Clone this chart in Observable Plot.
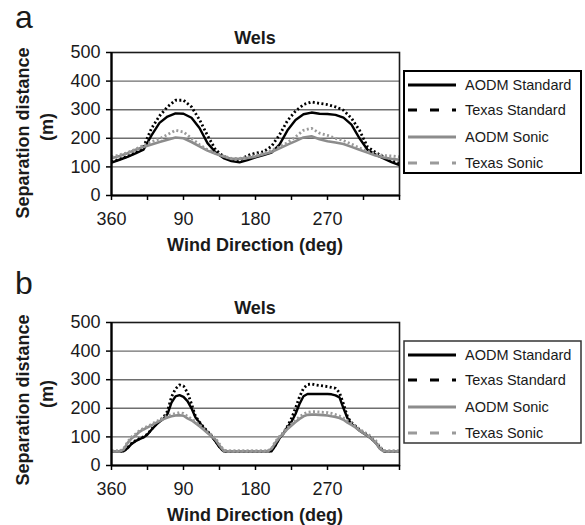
<!DOCTYPE html>
<html><head><meta charset="utf-8">
<script src="https://cdn.jsdelivr.net/npm/d3@7"></script>
<script src="https://cdn.jsdelivr.net/npm/@observablehq/plot@0.6"></script>
<style>
body{margin:0;background:#fff;font-family:"Liberation Sans",Arial,sans-serif;}
#wrap{position:relative;width:585px;height:525px;overflow:hidden;background:#fff;}
.panel{position:absolute;left:0;width:585px;height:270px;}
.panel svg{position:absolute;left:0;top:0;}
</style>
</head><body>
<div id="wrap"></div>
<script>
// ---- data ----
const seriesNames = ["AODM Standard", "Texas Standard", "AODM Sonic", "Texas Sonic"];
const xTickValues = [0, 45, 90, 135, 180, 225, 270, 315, 360];
const xTickLabels = ["360", "", "90", "", "180", "", "270", "", ""];
const yTickValues = [0, 100, 200, 300, 400, 500];

// Panel a: wind direction (deg) and separation distance (m)
const degA = [0,10,20,30,40,50,60,70,80,90,100,110,120,130,140,150,160,170,180,190,200,210,220,230,240,250,260,270,280,290,300,310,320,330,340,350,360];
const aodmStdA  = [115,125,135,147,160,210,254,276,287,286,272,236,183,151,131,120,116,124,133,141,150,178,228,264,284,290,286,285,282,272,248,200,160,143,130,117,106];
const texasStdA = [118,127,137,150,170,235,278,310,333,333,310,265,210,160,137,125,122,140,148,153,172,212,262,295,318,327,322,318,310,298,270,228,170,151,135,122,112];
const aodmSonA  = [130,138,148,160,170,178,187,195,203,200,187,172,157,146,136,128,128,131,136,144,152,165,178,190,203,207,197,190,185,180,170,160,150,140,133,128,125];
const texasSonA = [135,142,150,162,175,188,198,213,228,222,200,178,160,148,138,130,130,134,140,148,158,170,185,205,228,235,218,210,200,192,180,166,155,145,140,138,135];

// Panel b
const degB = [0,5,10,15,20,25,30,35,40,45,50,55,60,65,70,75,80,85,90,95,100,105,110,115,120,125,130,135,140,145,150,155,160,165,170,175,180,185,190,195,200,205,210,215,220,225,230,235,240,245,250,255,260,265,270,275,280,285,290,295,300,305,310,315,320,325,330,335,340,345,350,355,360];
const aodmStdB  = [50,50,50,50,60,75,85,92,98,108, 125,140,153,163,180,220,242,246,240,225, 200,168,150,132,118,102,84,64,50,50, 50,50,50,50,50,50,50,50,50,50, 50,70,95,112,135,153,180,215,242,250, 250,250,250,250,250,249,245,238,200,165, 145,135,122,113,104,93,80,62,50,50, 50,50,50];
const texasStdB = [50,50,50,50,62,77,87,94,100,110, 127,142,155,168,190,240,268,282,278,255, 215,172,152,134,120,104,86,66,50,50, 50,50,50,50,50,50,50,50,50,50, 52,72,97,114,137,165,200,240,270,283, 285,282,280,278,276,273,270,255,215,170, 150,138,125,115,106,95,82,64,50,50, 50,50,50];
const aodmSonB  = [50,50,50,55,78,95,105,118,126,133, 140,148,155,162,168,172,175,176,174,165, 158,148,137,126,114,102,90,70,52,50, 50,50,50,50,50,50,50,50,50,50, 58,80,98,112,128,140,152,163,172,177, 178,178,177,176,175,172,170,166,160,150, 142,133,122,113,104,93,80,60,50,50, 50,50,50];
const texasSonB = [50,50,50,58,82,100,110,122,130,137, 144,152,160,168,174,178,182,185,182,172, 163,153,142,130,118,107,95,75,55,50, 50,50,50,50,50,50,50,50,50,50, 60,84,102,116,132,145,158,170,180,186, 188,188,187,186,185,182,178,173,166,157, 148,138,127,118,110,100,88,68,52,50, 50,50,50];

// ---- styles ----
const styles = {
  "AODM Standard":  {stroke: "#000", strokeWidth: 2.4, dash: null,  legendDash: null},
  "Texas Standard": {stroke: "#000", strokeWidth: 2.8, dash: "2,2.4", legendDash: "9,13"},
  "AODM Sonic":     {stroke: "#8c8c8c", strokeWidth: 2.6, dash: null, legendDash: null},
  "Texas Sonic":    {stroke: "#9a9a9a", strokeWidth: 2.8, dash: "2,2.4", legendDash: "9,13"}
};

function makePanel(top, letter, letterY, ylabelY, deg, valuesList, legendStroke) {
  const div = document.createElement("div");
  div.className = "panel";
  div.style.top = top + "px";
  document.getElementById("wrap").append(div);

  const rows = [];
  seriesNames.forEach((s, i) => deg.forEach((d, j) => rows.push({series: s, deg: d, value: valuesList[i][j]})));

  const lineMarks = seriesNames.map(s => Plot.line(rows.filter(r => r.series === s), {
    x: "deg", y: "value", stroke: styles[s].stroke, strokeWidth: styles[s].strokeWidth,
    strokeDasharray: styles[s].dash, strokeLinejoin: "round", strokeLinecap: "butt"
  }));

  const plot = Plot.plot({
    width: 400, height: 260,
    marginLeft: 111, marginRight: 1, marginTop: 52, marginBottom: 65,
    x: {domain: [0, 360]},
    y: {domain: [0, 500]},
    style: {fontFamily: "'Liberation Sans', Arial, sans-serif", fontSize: "18px", color: "#1a1a1a", background: "transparent", overflow: "visible"},
    marks: [
      Plot.gridY([100, 200, 300, 400], {stroke: "#6e6e6e", strokeOpacity: 1, strokeWidth: 1.4}),
      ...lineMarks,
      Plot.frame({stroke: "#1a1a1a", strokeWidth: 1.6}),
      Plot.ruleY([0], {stroke: "#000", strokeWidth: 2.2}),
      Plot.ruleX([0], {stroke: "#000", strokeWidth: 2.2}),
      Plot.axisX({ticks: xTickValues, tickSize: 5, tickPadding: 12, tickFormat: (d) => xTickLabels[xTickValues.indexOf(d)], label: null, stroke: "#000", strokeWidth: 1.5}),
      Plot.axisY({ticks: yTickValues, tickSize: 5, tickPadding: 6, label: null, stroke: "#000", strokeWidth: 1.5})
    ]
  });
  div.append(plot);

  // overlay for titles and legend
  const svg = d3.select(div).append("svg").attr("width", 585).attr("height", 270)
    .style("font-family", "'Liberation Sans', Arial, sans-serif").style("overflow", "visible");
  svg.append("text").attr("x", 15).attr("y", letterY).attr("font-size", 32).attr("fill", "#1a1a1a").text(letter);
  svg.append("text").attr("x", 255).attr("y", 44).attr("text-anchor", "middle").attr("font-size", 18).attr("font-weight", "bold").attr("fill", "#1a1a1a").text("Wels");
  svg.append("text").attr("x", 255).attr("y", 251).attr("text-anchor", "middle").attr("font-size", 18).attr("font-weight", "bold").attr("fill", "#1a1a1a").text("Wind Direction (deg)");
  svg.append("text").attr("transform", `translate(29,${ylabelY}) rotate(-90)`).attr("text-anchor", "middle").attr("font-size", 18).attr("font-weight", "bold").attr("fill", "#1a1a1a").text("Separation distance");
  svg.append("text").attr("transform", `translate(53,${ylabelY - 6}) rotate(-90)`).attr("text-anchor", "middle").attr("font-size", 18).attr("font-weight", "bold").attr("fill", "#1a1a1a").text("(m)");

  // legend
  const lg = svg.append("g");
  lg.append("rect").attr("x", 404).attr("y", 71).attr("width", 177).attr("height", 102)
    .attr("fill", "#fff").attr("stroke", legendStroke.color).attr("stroke-width", legendStroke.width);
  const rowY = [85, 110, 137, 163];
  seriesNames.forEach((s, i) => {
    lg.append("line").attr("x1", 408).attr("x2", 456).attr("y1", rowY[i]).attr("y2", rowY[i])
      .attr("stroke", styles[s].stroke).attr("stroke-width", 3.2)
      .attr("stroke-dasharray", styles[s].legendDash);
    lg.append("text").attr("x", 465).attr("y", rowY[i] + 5).attr("font-size", 14.5).attr("fill", "#1a1a1a").text(s);
  });
}

makePanel(0, "a", 28, 133, degA, [aodmStdA, texasStdA, aodmSonA, texasSonA], {color: "#000", width: 2});
makePanel(270, "b", 24, 130, degB, [aodmStdB, texasStdB, aodmSonB, texasSonB], {color: "#333", width: 1.5});
</script>
</body></html>
